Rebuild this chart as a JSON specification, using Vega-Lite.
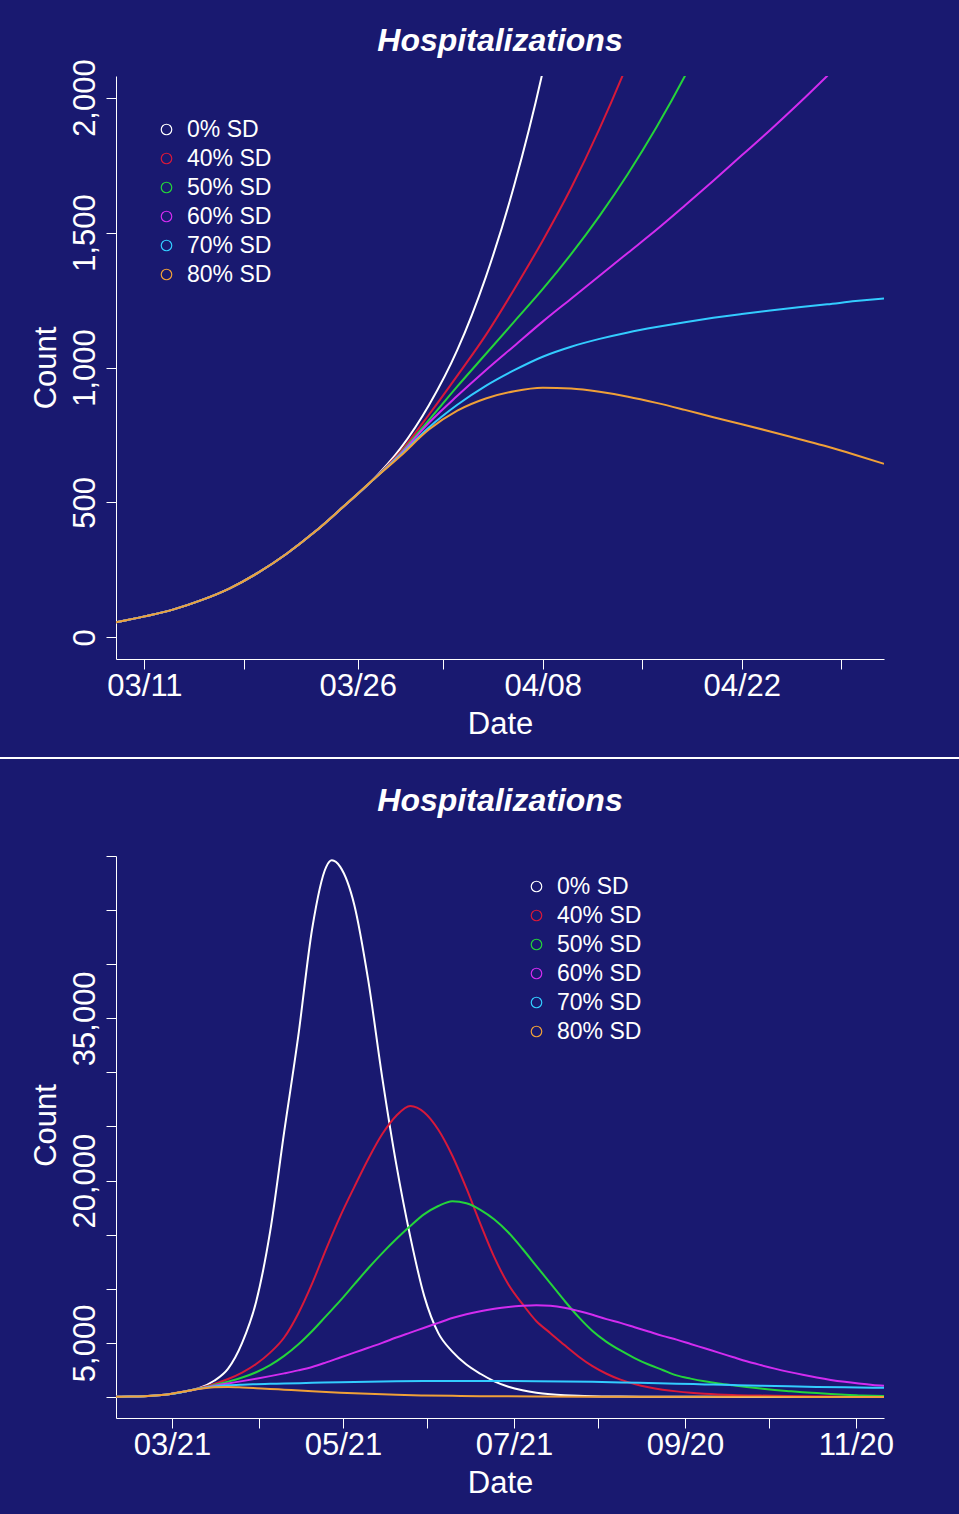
{
  "$schema": "https://vega.github.io/schema/vega-lite/v6.json",
  "background": "#191970",
  "padding": {"left": 0, "top": 24, "right": 0, "bottom": 16},
  "config": {
    "font": "Liberation Sans",
    "view": {"stroke": null},
    "title": {"fontSize": 32, "fontWeight": "bold", "fontStyle": "italic", "color": "white", "baseline": "alphabetic", "anchor": "middle", "frame": "group"},
    "axis": {"grid": false, "domainColor": "white", "tickColor": "white", "labelColor": "white", "titleColor": "white", "labelFontSize": 31, "titleFontSize": 31, "titleFontWeight": "normal", "tickSize": 10, "domainWidth": 1, "tickWidth": 1, "labelOverlap": false, "labelFlush": false, "labelBound": false},
    "legend": {"labelColor": "white", "labelFontSize": 23, "symbolType": "circle", "symbolSize": 110, "symbolStrokeWidth": 1.2, "symbolFillColor": "transparent", "labelOffset": 9, "rowPadding": 5, "padding": 0}
  },
  "datasets": {
    "early": [
      {"date": "2020-03-09", "scenario": "0% SD", "count": 56}, {"date": "2020-03-11", "scenario": "0% SD", "count": 78}, {"date": "2020-03-13", "scenario": "0% SD", "count": 103}, {"date": "2020-03-15", "scenario": "0% SD", "count": 138}, {"date": "2020-03-17", "scenario": "0% SD", "count": 182}, {"date": "2020-03-19", "scenario": "0% SD", "count": 240}, {"date": "2020-03-21", "scenario": "0% SD", "count": 310}, {"date": "2020-03-23", "scenario": "0% SD", "count": 392}, {"date": "2020-03-25", "scenario": "0% SD", "count": 485}, {"date": "2020-03-27", "scenario": "0% SD", "count": 580},
      {"date": "2020-03-29", "scenario": "0% SD", "count": 700}, {"date": "2020-03-31", "scenario": "0% SD", "count": 860}, {"date": "2020-04-02", "scenario": "0% SD", "count": 1065}, {"date": "2020-04-04", "scenario": "0% SD", "count": 1335}, {"date": "2020-04-06", "scenario": "0% SD", "count": 1675}, {"date": "2020-04-08", "scenario": "0% SD", "count": 2095}, {"date": "2020-04-10", "scenario": "0% SD", "count": 2620},

      {"date": "2020-03-09", "scenario": "40% SD", "count": 56}, {"date": "2020-03-11", "scenario": "40% SD", "count": 78}, {"date": "2020-03-13", "scenario": "40% SD", "count": 103}, {"date": "2020-03-15", "scenario": "40% SD", "count": 138}, {"date": "2020-03-17", "scenario": "40% SD", "count": 182}, {"date": "2020-03-19", "scenario": "40% SD", "count": 240}, {"date": "2020-03-21", "scenario": "40% SD", "count": 310}, {"date": "2020-03-23", "scenario": "40% SD", "count": 392}, {"date": "2020-03-25", "scenario": "40% SD", "count": 485}, {"date": "2020-03-27", "scenario": "40% SD", "count": 580},
      {"date": "2020-03-29", "scenario": "40% SD", "count": 688}, {"date": "2020-03-31", "scenario": "40% SD", "count": 825}, {"date": "2020-04-02", "scenario": "40% SD", "count": 970}, {"date": "2020-04-04", "scenario": "40% SD", "count": 1120}, {"date": "2020-04-06", "scenario": "40% SD", "count": 1290}, {"date": "2020-04-08", "scenario": "40% SD", "count": 1470}, {"date": "2020-04-10", "scenario": "40% SD", "count": 1665}, {"date": "2020-04-12", "scenario": "40% SD", "count": 1885}, {"date": "2020-04-14", "scenario": "40% SD", "count": 2130}, {"date": "2020-04-16", "scenario": "40% SD", "count": 2400},

      {"date": "2020-03-09", "scenario": "50% SD", "count": 56}, {"date": "2020-03-11", "scenario": "50% SD", "count": 78}, {"date": "2020-03-13", "scenario": "50% SD", "count": 103}, {"date": "2020-03-15", "scenario": "50% SD", "count": 138}, {"date": "2020-03-17", "scenario": "50% SD", "count": 182}, {"date": "2020-03-19", "scenario": "50% SD", "count": 240}, {"date": "2020-03-21", "scenario": "50% SD", "count": 310}, {"date": "2020-03-23", "scenario": "50% SD", "count": 392}, {"date": "2020-03-25", "scenario": "50% SD", "count": 485}, {"date": "2020-03-27", "scenario": "50% SD", "count": 580},
      {"date": "2020-03-29", "scenario": "50% SD", "count": 683}, {"date": "2020-03-31", "scenario": "50% SD", "count": 805}, {"date": "2020-04-02", "scenario": "50% SD", "count": 930}, {"date": "2020-04-04", "scenario": "50% SD", "count": 1050}, {"date": "2020-04-06", "scenario": "50% SD", "count": 1170}, {"date": "2020-04-08", "scenario": "50% SD", "count": 1290}, {"date": "2020-04-10", "scenario": "50% SD", "count": 1420}, {"date": "2020-04-12", "scenario": "50% SD", "count": 1562}, {"date": "2020-04-14", "scenario": "50% SD", "count": 1718}, {"date": "2020-04-16", "scenario": "50% SD", "count": 1890}, {"date": "2020-04-18", "scenario": "50% SD", "count": 2080}, {"date": "2020-04-20", "scenario": "50% SD", "count": 2290},

      {"date": "2020-03-09", "scenario": "60% SD", "count": 56}, {"date": "2020-03-11", "scenario": "60% SD", "count": 78}, {"date": "2020-03-13", "scenario": "60% SD", "count": 103}, {"date": "2020-03-15", "scenario": "60% SD", "count": 138}, {"date": "2020-03-17", "scenario": "60% SD", "count": 182}, {"date": "2020-03-19", "scenario": "60% SD", "count": 240}, {"date": "2020-03-21", "scenario": "60% SD", "count": 310}, {"date": "2020-03-23", "scenario": "60% SD", "count": 392}, {"date": "2020-03-25", "scenario": "60% SD", "count": 485}, {"date": "2020-03-27", "scenario": "60% SD", "count": 580},
      {"date": "2020-03-29", "scenario": "60% SD", "count": 680}, {"date": "2020-03-31", "scenario": "60% SD", "count": 795}, {"date": "2020-04-02", "scenario": "60% SD", "count": 895}, {"date": "2020-04-04", "scenario": "60% SD", "count": 990}, {"date": "2020-04-06", "scenario": "60% SD", "count": 1080}, {"date": "2020-04-08", "scenario": "60% SD", "count": 1170}, {"date": "2020-04-10", "scenario": "60% SD", "count": 1255}, {"date": "2020-04-12", "scenario": "60% SD", "count": 1340}, {"date": "2020-04-14", "scenario": "60% SD", "count": 1425}, {"date": "2020-04-16", "scenario": "60% SD", "count": 1510}, {"date": "2020-04-18", "scenario": "60% SD", "count": 1600}, {"date": "2020-04-20", "scenario": "60% SD", "count": 1692}, {"date": "2020-04-22", "scenario": "60% SD", "count": 1786}, {"date": "2020-04-24", "scenario": "60% SD", "count": 1880}, {"date": "2020-04-26", "scenario": "60% SD", "count": 1978}, {"date": "2020-04-28", "scenario": "60% SD", "count": 2080}, {"date": "2020-04-30", "scenario": "60% SD", "count": 2185},

      {"date": "2020-03-09", "scenario": "70% SD", "count": 56}, {"date": "2020-03-11", "scenario": "70% SD", "count": 78}, {"date": "2020-03-13", "scenario": "70% SD", "count": 103}, {"date": "2020-03-15", "scenario": "70% SD", "count": 138}, {"date": "2020-03-17", "scenario": "70% SD", "count": 182}, {"date": "2020-03-19", "scenario": "70% SD", "count": 240}, {"date": "2020-03-21", "scenario": "70% SD", "count": 310}, {"date": "2020-03-23", "scenario": "70% SD", "count": 392}, {"date": "2020-03-25", "scenario": "70% SD", "count": 485}, {"date": "2020-03-27", "scenario": "70% SD", "count": 580},
      {"date": "2020-03-29", "scenario": "70% SD", "count": 676}, {"date": "2020-03-31", "scenario": "70% SD", "count": 778}, {"date": "2020-04-02", "scenario": "70% SD", "count": 862}, {"date": "2020-04-04", "scenario": "70% SD", "count": 932}, {"date": "2020-04-06", "scenario": "70% SD", "count": 990}, {"date": "2020-04-08", "scenario": "70% SD", "count": 1040}, {"date": "2020-04-10", "scenario": "70% SD", "count": 1077}, {"date": "2020-04-12", "scenario": "70% SD", "count": 1106}, {"date": "2020-04-14", "scenario": "70% SD", "count": 1130}, {"date": "2020-04-16", "scenario": "70% SD", "count": 1150}, {"date": "2020-04-18", "scenario": "70% SD", "count": 1168}, {"date": "2020-04-20", "scenario": "70% SD", "count": 1184}, {"date": "2020-04-22", "scenario": "70% SD", "count": 1198}, {"date": "2020-04-24", "scenario": "70% SD", "count": 1211}, {"date": "2020-04-26", "scenario": "70% SD", "count": 1223}, {"date": "2020-04-28", "scenario": "70% SD", "count": 1234}, {"date": "2020-04-30", "scenario": "70% SD", "count": 1246}, {"date": "2020-05-02", "scenario": "70% SD", "count": 1256},

      {"date": "2020-03-09", "scenario": "80% SD", "count": 56}, {"date": "2020-03-11", "scenario": "80% SD", "count": 78}, {"date": "2020-03-13", "scenario": "80% SD", "count": 103}, {"date": "2020-03-15", "scenario": "80% SD", "count": 138}, {"date": "2020-03-17", "scenario": "80% SD", "count": 182}, {"date": "2020-03-19", "scenario": "80% SD", "count": 240}, {"date": "2020-03-21", "scenario": "80% SD", "count": 310}, {"date": "2020-03-23", "scenario": "80% SD", "count": 392}, {"date": "2020-03-25", "scenario": "80% SD", "count": 485}, {"date": "2020-03-27", "scenario": "80% SD", "count": 580},
      {"date": "2020-03-29", "scenario": "80% SD", "count": 672}, {"date": "2020-03-31", "scenario": "80% SD", "count": 770}, {"date": "2020-04-02", "scenario": "80% SD", "count": 840}, {"date": "2020-04-04", "scenario": "80% SD", "count": 885}, {"date": "2020-04-06", "scenario": "80% SD", "count": 912}, {"date": "2020-04-08", "scenario": "80% SD", "count": 925}, {"date": "2020-04-10", "scenario": "80% SD", "count": 922}, {"date": "2020-04-12", "scenario": "80% SD", "count": 910}, {"date": "2020-04-14", "scenario": "80% SD", "count": 892}, {"date": "2020-04-16", "scenario": "80% SD", "count": 869}, {"date": "2020-04-18", "scenario": "80% SD", "count": 843}, {"date": "2020-04-20", "scenario": "80% SD", "count": 816}, {"date": "2020-04-22", "scenario": "80% SD", "count": 790}, {"date": "2020-04-24", "scenario": "80% SD", "count": 763}, {"date": "2020-04-26", "scenario": "80% SD", "count": 735}, {"date": "2020-04-28", "scenario": "80% SD", "count": 707}, {"date": "2020-04-30", "scenario": "80% SD", "count": 676}, {"date": "2020-05-02", "scenario": "80% SD", "count": 643}
    ],
    "season": [
      {"date": "2020-03-01", "scenario": "0% SD", "count": 17}, {"date": "2020-03-06", "scenario": "0% SD", "count": 36}, {"date": "2020-03-11", "scenario": "0% SD", "count": 78}, {"date": "2020-03-16", "scenario": "0% SD", "count": 160}, {"date": "2020-03-21", "scenario": "0% SD", "count": 310}, {"date": "2020-03-26", "scenario": "0% SD", "count": 532},
      {"date": "2020-03-31", "scenario": "0% SD", "count": 860}, {"date": "2020-04-05", "scenario": "0% SD", "count": 1500}, {"date": "2020-04-10", "scenario": "0% SD", "count": 2620}, {"date": "2020-04-15", "scenario": "0% SD", "count": 5000}, {"date": "2020-04-20", "scenario": "0% SD", "count": 8800}, {"date": "2020-04-25", "scenario": "0% SD", "count": 15300}, {"date": "2020-04-30", "scenario": "0% SD", "count": 24500}, {"date": "2020-05-05", "scenario": "0% SD", "count": 33300}, {"date": "2020-05-10", "scenario": "0% SD", "count": 43300}, {"date": "2020-05-15", "scenario": "0% SD", "count": 49000}, {"date": "2020-05-17", "scenario": "0% SD", "count": 49600}, {"date": "2020-05-20", "scenario": "0% SD", "count": 49000}, {"date": "2020-05-25", "scenario": "0% SD", "count": 45500}, {"date": "2020-05-30", "scenario": "0% SD", "count": 38500}, {"date": "2020-06-04", "scenario": "0% SD", "count": 29500}, {"date": "2020-06-09", "scenario": "0% SD", "count": 21500}, {"date": "2020-06-14", "scenario": "0% SD", "count": 14800}, {"date": "2020-06-19", "scenario": "0% SD", "count": 9300}, {"date": "2020-06-24", "scenario": "0% SD", "count": 5900}, {"date": "2020-06-29", "scenario": "0% SD", "count": 4200}, {"date": "2020-07-04", "scenario": "0% SD", "count": 3000}, {"date": "2020-07-09", "scenario": "0% SD", "count": 2150}, {"date": "2020-07-14", "scenario": "0% SD", "count": 1450}, {"date": "2020-07-19", "scenario": "0% SD", "count": 950}, {"date": "2020-07-24", "scenario": "0% SD", "count": 620}, {"date": "2020-07-29", "scenario": "0% SD", "count": 400}, {"date": "2020-08-03", "scenario": "0% SD", "count": 260}, {"date": "2020-08-08", "scenario": "0% SD", "count": 170}, {"date": "2020-08-13", "scenario": "0% SD", "count": 110}, {"date": "2020-08-18", "scenario": "0% SD", "count": 75}, {"date": "2020-08-28", "scenario": "0% SD", "count": 45}, {"date": "2020-09-07", "scenario": "0% SD", "count": 30}, {"date": "2020-09-27", "scenario": "0% SD", "count": 15}, {"date": "2020-10-27", "scenario": "0% SD", "count": 8}, {"date": "2020-11-30", "scenario": "0% SD", "count": 5},

      {"date": "2020-03-01", "scenario": "40% SD", "count": 17}, {"date": "2020-03-06", "scenario": "40% SD", "count": 36}, {"date": "2020-03-11", "scenario": "40% SD", "count": 78}, {"date": "2020-03-16", "scenario": "40% SD", "count": 160}, {"date": "2020-03-21", "scenario": "40% SD", "count": 310}, {"date": "2020-03-26", "scenario": "40% SD", "count": 532},
      {"date": "2020-03-31", "scenario": "40% SD", "count": 825}, {"date": "2020-04-05", "scenario": "40% SD", "count": 1200}, {"date": "2020-04-10", "scenario": "40% SD", "count": 1665}, {"date": "2020-04-15", "scenario": "40% SD", "count": 2260}, {"date": "2020-04-20", "scenario": "40% SD", "count": 3050}, {"date": "2020-04-25", "scenario": "40% SD", "count": 4100}, {"date": "2020-04-30", "scenario": "40% SD", "count": 5500}, {"date": "2020-05-05", "scenario": "40% SD", "count": 7700}, {"date": "2020-05-10", "scenario": "40% SD", "count": 10500}, {"date": "2020-05-15", "scenario": "40% SD", "count": 13700}, {"date": "2020-05-20", "scenario": "40% SD", "count": 16700}, {"date": "2020-05-25", "scenario": "40% SD", "count": 19400}, {"date": "2020-05-30", "scenario": "40% SD", "count": 22000}, {"date": "2020-06-04", "scenario": "40% SD", "count": 24300}, {"date": "2020-06-09", "scenario": "40% SD", "count": 26000}, {"date": "2020-06-14", "scenario": "40% SD", "count": 26900}, {"date": "2020-06-19", "scenario": "40% SD", "count": 26300}, {"date": "2020-06-24", "scenario": "40% SD", "count": 24700}, {"date": "2020-06-29", "scenario": "40% SD", "count": 22300}, {"date": "2020-07-04", "scenario": "40% SD", "count": 19300}, {"date": "2020-07-09", "scenario": "40% SD", "count": 16000}, {"date": "2020-07-14", "scenario": "40% SD", "count": 12900}, {"date": "2020-07-19", "scenario": "40% SD", "count": 10400}, {"date": "2020-07-24", "scenario": "40% SD", "count": 8600}, {"date": "2020-07-29", "scenario": "40% SD", "count": 7000}, {"date": "2020-08-03", "scenario": "40% SD", "count": 5900}, {"date": "2020-08-08", "scenario": "40% SD", "count": 4800}, {"date": "2020-08-13", "scenario": "40% SD", "count": 3750}, {"date": "2020-08-18", "scenario": "40% SD", "count": 2850}, {"date": "2020-08-23", "scenario": "40% SD", "count": 2150}, {"date": "2020-08-28", "scenario": "40% SD", "count": 1600}, {"date": "2020-09-02", "scenario": "40% SD", "count": 1200}, {"date": "2020-09-07", "scenario": "40% SD", "count": 900}, {"date": "2020-09-12", "scenario": "40% SD", "count": 680}, {"date": "2020-09-17", "scenario": "40% SD", "count": 520}, {"date": "2020-09-22", "scenario": "40% SD", "count": 400}, {"date": "2020-09-27", "scenario": "40% SD", "count": 310}, {"date": "2020-10-07", "scenario": "40% SD", "count": 190}, {"date": "2020-10-17", "scenario": "40% SD", "count": 130}, {"date": "2020-10-27", "scenario": "40% SD", "count": 90}, {"date": "2020-11-06", "scenario": "40% SD", "count": 65}, {"date": "2020-11-16", "scenario": "40% SD", "count": 48}, {"date": "2020-11-30", "scenario": "40% SD", "count": 32},

      {"date": "2020-03-01", "scenario": "50% SD", "count": 17}, {"date": "2020-03-06", "scenario": "50% SD", "count": 36}, {"date": "2020-03-11", "scenario": "50% SD", "count": 78}, {"date": "2020-03-16", "scenario": "50% SD", "count": 160}, {"date": "2020-03-21", "scenario": "50% SD", "count": 310}, {"date": "2020-03-26", "scenario": "50% SD", "count": 532},
      {"date": "2020-03-31", "scenario": "50% SD", "count": 805}, {"date": "2020-04-05", "scenario": "50% SD", "count": 1110}, {"date": "2020-04-10", "scenario": "50% SD", "count": 1420}, {"date": "2020-04-15", "scenario": "50% SD", "count": 1800}, {"date": "2020-04-20", "scenario": "50% SD", "count": 2290}, {"date": "2020-04-25", "scenario": "50% SD", "count": 2950}, {"date": "2020-04-30", "scenario": "50% SD", "count": 3800}, {"date": "2020-05-05", "scenario": "50% SD", "count": 4850}, {"date": "2020-05-10", "scenario": "50% SD", "count": 6100}, {"date": "2020-05-15", "scenario": "50% SD", "count": 7500}, {"date": "2020-05-20", "scenario": "50% SD", "count": 8900}, {"date": "2020-05-25", "scenario": "50% SD", "count": 10400}, {"date": "2020-05-30", "scenario": "50% SD", "count": 11900}, {"date": "2020-06-04", "scenario": "50% SD", "count": 13300}, {"date": "2020-06-09", "scenario": "50% SD", "count": 14600}, {"date": "2020-06-14", "scenario": "50% SD", "count": 15800}, {"date": "2020-06-19", "scenario": "50% SD", "count": 16900}, {"date": "2020-06-24", "scenario": "50% SD", "count": 17650}, {"date": "2020-06-29", "scenario": "50% SD", "count": 18100}, {"date": "2020-07-04", "scenario": "50% SD", "count": 17900}, {"date": "2020-07-09", "scenario": "50% SD", "count": 17300}, {"date": "2020-07-14", "scenario": "50% SD", "count": 16400}, {"date": "2020-07-19", "scenario": "50% SD", "count": 15200}, {"date": "2020-07-24", "scenario": "50% SD", "count": 13700}, {"date": "2020-07-29", "scenario": "50% SD", "count": 12100}, {"date": "2020-08-03", "scenario": "50% SD", "count": 10500}, {"date": "2020-08-08", "scenario": "50% SD", "count": 8900}, {"date": "2020-08-13", "scenario": "50% SD", "count": 7400}, {"date": "2020-08-18", "scenario": "50% SD", "count": 6100}, {"date": "2020-08-23", "scenario": "50% SD", "count": 5100}, {"date": "2020-08-28", "scenario": "50% SD", "count": 4300}, {"date": "2020-09-02", "scenario": "50% SD", "count": 3600}, {"date": "2020-09-07", "scenario": "50% SD", "count": 3000}, {"date": "2020-09-12", "scenario": "50% SD", "count": 2500}, {"date": "2020-09-17", "scenario": "50% SD", "count": 2000}, {"date": "2020-09-22", "scenario": "50% SD", "count": 1700}, {"date": "2020-09-27", "scenario": "50% SD", "count": 1450}, {"date": "2020-10-02", "scenario": "50% SD", "count": 1250}, {"date": "2020-10-07", "scenario": "50% SD", "count": 1080}, {"date": "2020-10-12", "scenario": "50% SD", "count": 920}, {"date": "2020-10-17", "scenario": "50% SD", "count": 780}, {"date": "2020-10-22", "scenario": "50% SD", "count": 650}, {"date": "2020-10-27", "scenario": "50% SD", "count": 540}, {"date": "2020-11-01", "scenario": "50% SD", "count": 440}, {"date": "2020-11-06", "scenario": "50% SD", "count": 360}, {"date": "2020-11-11", "scenario": "50% SD", "count": 280}, {"date": "2020-11-16", "scenario": "50% SD", "count": 200}, {"date": "2020-11-21", "scenario": "50% SD", "count": 150}, {"date": "2020-11-26", "scenario": "50% SD", "count": 110}, {"date": "2020-11-30", "scenario": "50% SD", "count": 90},

      {"date": "2020-03-01", "scenario": "60% SD", "count": 17}, {"date": "2020-03-06", "scenario": "60% SD", "count": 36}, {"date": "2020-03-11", "scenario": "60% SD", "count": 78}, {"date": "2020-03-16", "scenario": "60% SD", "count": 160}, {"date": "2020-03-21", "scenario": "60% SD", "count": 310}, {"date": "2020-03-26", "scenario": "60% SD", "count": 532},
      {"date": "2020-03-31", "scenario": "60% SD", "count": 795}, {"date": "2020-04-05", "scenario": "60% SD", "count": 1035}, {"date": "2020-04-10", "scenario": "60% SD", "count": 1255}, {"date": "2020-04-15", "scenario": "60% SD", "count": 1467}, {"date": "2020-04-20", "scenario": "60% SD", "count": 1692}, {"date": "2020-04-25", "scenario": "60% SD", "count": 1930}, {"date": "2020-04-30", "scenario": "60% SD", "count": 2185}, {"date": "2020-05-05", "scenario": "60% SD", "count": 2460}, {"date": "2020-05-10", "scenario": "60% SD", "count": 2780}, {"date": "2020-05-15", "scenario": "60% SD", "count": 3200}, {"date": "2020-05-20", "scenario": "60% SD", "count": 3650}, {"date": "2020-05-25", "scenario": "60% SD", "count": 4100}, {"date": "2020-05-30", "scenario": "60% SD", "count": 4550}, {"date": "2020-06-04", "scenario": "60% SD", "count": 5000}, {"date": "2020-06-09", "scenario": "60% SD", "count": 5500}, {"date": "2020-06-14", "scenario": "60% SD", "count": 5950}, {"date": "2020-06-19", "scenario": "60% SD", "count": 6400}, {"date": "2020-06-24", "scenario": "60% SD", "count": 6850}, {"date": "2020-06-29", "scenario": "60% SD", "count": 7300}, {"date": "2020-07-04", "scenario": "60% SD", "count": 7650}, {"date": "2020-07-09", "scenario": "60% SD", "count": 7930}, {"date": "2020-07-14", "scenario": "60% SD", "count": 8150}, {"date": "2020-07-19", "scenario": "60% SD", "count": 8320}, {"date": "2020-07-24", "scenario": "60% SD", "count": 8430}, {"date": "2020-07-29", "scenario": "60% SD", "count": 8480}, {"date": "2020-08-03", "scenario": "60% SD", "count": 8430}, {"date": "2020-08-08", "scenario": "60% SD", "count": 8250}, {"date": "2020-08-13", "scenario": "60% SD", "count": 7950}, {"date": "2020-08-18", "scenario": "60% SD", "count": 7600}, {"date": "2020-08-23", "scenario": "60% SD", "count": 7200}, {"date": "2020-08-28", "scenario": "60% SD", "count": 6850}, {"date": "2020-09-02", "scenario": "60% SD", "count": 6450}, {"date": "2020-09-07", "scenario": "60% SD", "count": 6050}, {"date": "2020-09-12", "scenario": "60% SD", "count": 5650}, {"date": "2020-09-17", "scenario": "60% SD", "count": 5300}, {"date": "2020-09-22", "scenario": "60% SD", "count": 4900}, {"date": "2020-09-27", "scenario": "60% SD", "count": 4500}, {"date": "2020-10-02", "scenario": "60% SD", "count": 4100}, {"date": "2020-10-07", "scenario": "60% SD", "count": 3700}, {"date": "2020-10-12", "scenario": "60% SD", "count": 3300}, {"date": "2020-10-17", "scenario": "60% SD", "count": 2950}, {"date": "2020-10-22", "scenario": "60% SD", "count": 2620}, {"date": "2020-10-27", "scenario": "60% SD", "count": 2320}, {"date": "2020-11-01", "scenario": "60% SD", "count": 2050}, {"date": "2020-11-06", "scenario": "60% SD", "count": 1800}, {"date": "2020-11-11", "scenario": "60% SD", "count": 1580}, {"date": "2020-11-16", "scenario": "60% SD", "count": 1400}, {"date": "2020-11-21", "scenario": "60% SD", "count": 1250}, {"date": "2020-11-26", "scenario": "60% SD", "count": 1120}, {"date": "2020-11-30", "scenario": "60% SD", "count": 1040},

      {"date": "2020-03-01", "scenario": "70% SD", "count": 17}, {"date": "2020-03-06", "scenario": "70% SD", "count": 36}, {"date": "2020-03-11", "scenario": "70% SD", "count": 78}, {"date": "2020-03-16", "scenario": "70% SD", "count": 160}, {"date": "2020-03-21", "scenario": "70% SD", "count": 310}, {"date": "2020-03-26", "scenario": "70% SD", "count": 532},
      {"date": "2020-03-31", "scenario": "70% SD", "count": 778}, {"date": "2020-04-05", "scenario": "70% SD", "count": 960}, {"date": "2020-04-10", "scenario": "70% SD", "count": 1077}, {"date": "2020-04-15", "scenario": "70% SD", "count": 1140}, {"date": "2020-04-20", "scenario": "70% SD", "count": 1184}, {"date": "2020-04-25", "scenario": "70% SD", "count": 1217}, {"date": "2020-04-30", "scenario": "70% SD", "count": 1246}, {"date": "2020-05-10", "scenario": "70% SD", "count": 1310}, {"date": "2020-05-20", "scenario": "70% SD", "count": 1370}, {"date": "2020-05-30", "scenario": "70% SD", "count": 1420}, {"date": "2020-06-09", "scenario": "70% SD", "count": 1455}, {"date": "2020-06-19", "scenario": "70% SD", "count": 1475}, {"date": "2020-06-29", "scenario": "70% SD", "count": 1485}, {"date": "2020-07-09", "scenario": "70% SD", "count": 1485}, {"date": "2020-07-19", "scenario": "70% SD", "count": 1478}, {"date": "2020-07-29", "scenario": "70% SD", "count": 1465}, {"date": "2020-08-08", "scenario": "70% SD", "count": 1440}, {"date": "2020-08-18", "scenario": "70% SD", "count": 1400}, {"date": "2020-08-28", "scenario": "70% SD", "count": 1350}, {"date": "2020-09-07", "scenario": "70% SD", "count": 1290}, {"date": "2020-09-17", "scenario": "70% SD", "count": 1230}, {"date": "2020-09-27", "scenario": "70% SD", "count": 1165}, {"date": "2020-10-07", "scenario": "70% SD", "count": 1100}, {"date": "2020-10-17", "scenario": "70% SD", "count": 1040}, {"date": "2020-10-27", "scenario": "70% SD", "count": 985}, {"date": "2020-11-06", "scenario": "70% SD", "count": 935}, {"date": "2020-11-16", "scenario": "70% SD", "count": 895}, {"date": "2020-11-26", "scenario": "70% SD", "count": 865}, {"date": "2020-11-30", "scenario": "70% SD", "count": 855},

      {"date": "2020-03-01", "scenario": "80% SD", "count": 17}, {"date": "2020-03-06", "scenario": "80% SD", "count": 36}, {"date": "2020-03-11", "scenario": "80% SD", "count": 78}, {"date": "2020-03-16", "scenario": "80% SD", "count": 160}, {"date": "2020-03-21", "scenario": "80% SD", "count": 310}, {"date": "2020-03-26", "scenario": "80% SD", "count": 532},
      {"date": "2020-03-31", "scenario": "80% SD", "count": 770}, {"date": "2020-04-05", "scenario": "80% SD", "count": 900}, {"date": "2020-04-10", "scenario": "80% SD", "count": 922}, {"date": "2020-04-15", "scenario": "80% SD", "count": 880}, {"date": "2020-04-20", "scenario": "80% SD", "count": 816}, {"date": "2020-04-25", "scenario": "80% SD", "count": 750}, {"date": "2020-04-30", "scenario": "80% SD", "count": 676}, {"date": "2020-05-10", "scenario": "80% SD", "count": 530}, {"date": "2020-05-20", "scenario": "80% SD", "count": 400}, {"date": "2020-05-30", "scenario": "80% SD", "count": 290}, {"date": "2020-06-09", "scenario": "80% SD", "count": 200}, {"date": "2020-06-19", "scenario": "80% SD", "count": 145}, {"date": "2020-06-29", "scenario": "80% SD", "count": 105}, {"date": "2020-07-09", "scenario": "80% SD", "count": 80}, {"date": "2020-07-19", "scenario": "80% SD", "count": 62}, {"date": "2020-07-29", "scenario": "80% SD", "count": 48}, {"date": "2020-08-18", "scenario": "80% SD", "count": 32}, {"date": "2020-09-07", "scenario": "80% SD", "count": 22}, {"date": "2020-10-07", "scenario": "80% SD", "count": 14}, {"date": "2020-11-06", "scenario": "80% SD", "count": 10}, {"date": "2020-11-30", "scenario": "80% SD", "count": 8}
    ]
  },
  "concat": [
    {
      "width": 768,
      "height": 583,
      "title": {"text": "Hospitalizations", "offset": 1},
      "data": {"name": "early"},
      "mark": {"type": "line", "strokeWidth": 2, "interpolate": "monotone", "clip": true},
      "encoding": {
        "x": {
          "field": "date", "type": "temporal",
          "scale": {"type": "utc", "domain": [{"year": 2020, "month": 3, "date": 9, "utc": true}, {"year": 2020, "month": 5, "date": 2, "utc": true}]},
          "axis": {
            "values": [{"year": 2020, "month": 3, "date": 11, "utc": true}, {"year": 2020, "month": 3, "date": 18, "utc": true}, {"year": 2020, "month": 3, "date": 26, "utc": true}, {"year": 2020, "month": 4, "date": 1, "utc": true}, {"year": 2020, "month": 4, "date": 8, "utc": true}, {"year": 2020, "month": 4, "date": 15, "utc": true}, {"year": 2020, "month": 4, "date": 22, "utc": true}, {"year": 2020, "month": 4, "date": 29, "utc": true}],
            "labelExpr": "indexof(['03/11', '03/26', '04/08', '04/22'], utcFormat(datum.value, '%m/%d')) >= 0 ? utcFormat(datum.value, '%m/%d') : ''",
            "labelBaseline": "alphabetic", "labelPadding": 26,
            "title": "Date", "titleX": 384, "titleY": 74, "titleAlign": "center", "titleBaseline": "alphabetic"
          }
        },
        "y": {
          "field": "count", "type": "quantitative",
          "scale": {"domain": [-80, 2080], "nice": false, "zero": false},
          "axis": {
            "values": [0, 500, 1000, 1500, 2000], "format": ",d",
            "labelAngle": -90, "labelAlign": "center", "labelBaseline": "alphabetic", "labelPadding": 12,
            "title": [" ", "Count"], "titleAngle": -90, "titleAlign": "center", "titleBaseline": "alphabetic", "titleLineHeight": 30, "titleX": -91, "titleY": 291.5
          }
        },
        "color": {
          "field": "scenario", "type": "nominal",
          "scale": {"domain": ["0% SD", "40% SD", "50% SD", "60% SD", "70% SD", "80% SD"], "range": ["#FFFFFF", "#D7193A", "#24D43A", "#D22CF0", "#33CCFF", "#F0A038"]},
          "legend": {"title": null, "orient": "none", "legendX": 39, "legendY": 42}
        }
      }
    },
    {
      "width": 843,
      "height": 9,
      "data": {"values": [{}]},
      "mark": {"type": "rect", "color": "white"},
      "encoding": {
        "x": {"datum": 0, "type": "quantitative", "scale": {"domain": [0, 1], "range": [-116, 843], "nice": false, "zero": false}, "axis": null},
        "x2": {"datum": 1},
        "y": {"datum": 0, "type": "quantitative", "scale": {"domain": [0, 1], "range": [0, 2], "nice": false, "zero": false}, "axis": null},
        "y2": {"datum": 1}
      }
    },
    {
      "width": 768,
      "height": 562,
      "title": {"text": "Hospitalizations", "offset": 38},
      "data": {"name": "season"},
      "mark": {"type": "line", "strokeWidth": 2, "interpolate": "monotone", "clip": true},
      "encoding": {
        "x": {
          "field": "date", "type": "temporal",
          "scale": {"type": "utc", "domain": [{"year": 2020, "month": 3, "date": 1, "utc": true}, {"year": 2020, "month": 11, "date": 30, "utc": true}]},
          "axis": {
            "values": [{"year": 2020, "month": 3, "date": 21, "utc": true}, {"year": 2020, "month": 4, "date": 21, "utc": true}, {"year": 2020, "month": 5, "date": 21, "utc": true}, {"year": 2020, "month": 6, "date": 20, "utc": true}, {"year": 2020, "month": 7, "date": 21, "utc": true}, {"year": 2020, "month": 8, "date": 20, "utc": true}, {"year": 2020, "month": 9, "date": 20, "utc": true}, {"year": 2020, "month": 10, "date": 20, "utc": true}, {"year": 2020, "month": 11, "date": 20, "utc": true}],
            "labelExpr": "indexof(['03/21', '05/21', '07/21', '09/20', '11/20'], utcFormat(datum.value, '%m/%d')) >= 0 ? utcFormat(datum.value, '%m/%d') : ''",
            "labelBaseline": "alphabetic", "labelPadding": 26,
            "title": "Date", "titleX": 384, "titleY": 74, "titleAlign": "center", "titleBaseline": "alphabetic"
          }
        },
        "y": {
          "field": "count", "type": "quantitative",
          "scale": {"domain": [-1941, 50000], "nice": false, "zero": false},
          "axis": {
            "values": [0, 5000, 10000, 15000, 20000, 25000, 30000, 35000, 40000, 45000, 50000], "format": ",d",
            "labelExpr": "indexof([5000, 20000, 35000], datum.value) >= 0 ? datum.label : ''",
            "labelAngle": -90, "labelAlign": "center", "labelBaseline": "alphabetic", "labelPadding": 12,
            "title": [" ", "Count"], "titleAngle": -90, "titleAlign": "center", "titleBaseline": "alphabetic", "titleLineHeight": 30, "titleX": -91, "titleY": 269
          }
        },
        "color": {
          "field": "scenario", "type": "nominal",
          "scale": {"domain": ["0% SD", "40% SD", "50% SD", "60% SD", "70% SD", "80% SD"], "range": ["#FFFFFF", "#D7193A", "#24D43A", "#D22CF0", "#33CCFF", "#F0A038"]},
          "legend": {"title": null, "orient": "none", "legendX": 409, "legendY": 19}
        }
      }
    }
  ],
  "columns": 1,
  "spacing": 18,
  "resolve": {"scale": {"color": "independent"}, "legend": {"color": "independent"}}
}
